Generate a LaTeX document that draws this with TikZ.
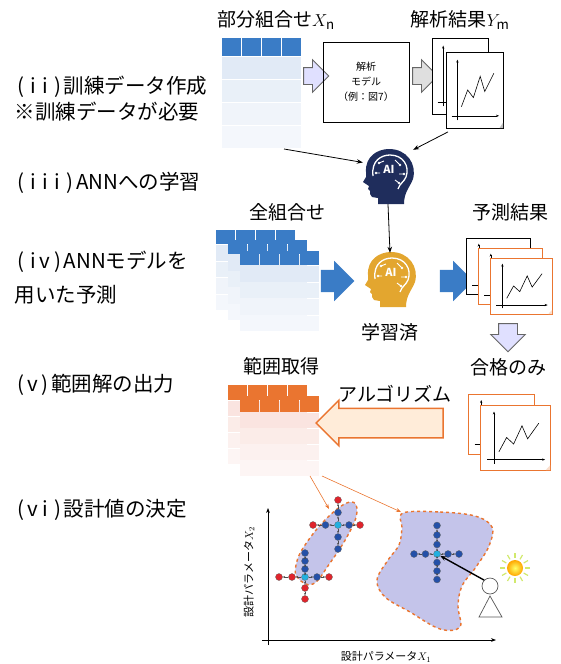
\documentclass[tikz,border=0pt]{standalone}
\usepackage{fontspec}
\setmainfont{Noto Sans CJK JP}
\usetikzlibrary{arrows.meta, shapes.arrows, positioning, calc}

\definecolor{navy}{HTML}{1F2D5C}
\definecolor{gold}{HTML}{E3A62F}
\definecolor{tblue}{HTML}{3A7CC6}
\definecolor{rowblue}{HTML}{C9D9EE}
\definecolor{torange}{HTML}{EA7530}
\definecolor{roworange}{HTML}{F6CFC6}
\definecolor{lav}{HTML}{C4C4EA}
\definecolor{dotblue}{HTML}{2450A8}
\definecolor{dotred}{HTML}{E0242C}
\definecolor{dotcyan}{HTML}{22B0E0}

% half-width cell for the step numbers
\newcommand\hw[1]{\makebox[0.6em]{#1}}

\tikzset{
  steplabel/.style={anchor=west, font=\fontsize{20.5}{24}\selectfont}, % left column
  headlabel/.style={font=\fontsize{19}{22}\selectfont},
  page/.style={fill=white, line width=0.9pt, inner sep=0pt, anchor=north west},
  hollowarrow/.style={single arrow, draw=gray!80!black, line width=0.8pt, inner sep=8pt,
    minimum height=22pt, single arrow head extend=8pt},
  solidarrow/.style={single arrow, fill=tblue, inner sep=11pt,
    minimum height=28pt, single arrow head extend=9pt},
  conn/.style={-{Stealth[length=6pt]}, line width=0.8pt},
  region/.style={fill=lav, draw=torange, dashed, line width=1.4pt},
  dot/.style={circle, inner sep=0pt, minimum size=7pt, draw=black!60, line width=0.3pt},
  probe/.style={-{Stealth[length=2.5pt]}, line width=0.5pt, black!70},
  headbox/.style={minimum width=50pt, minimum height=54pt, inner sep=0pt},
  % AI head silhouette, facing left
  aihead/.pic={
    \fill[pic actions] (-10,27) -- (-10,21) -- (-16,20) -- (-18,17) -- (-18,14) -- (-20,12)
      -- (-19,9) -- (-25,5) -- (-22,0) -- (-22,-5)
      .. controls (-23,-21) and (-10,-28) .. (1,-28)
      .. controls (19,-28) and (29,-13) .. (25,2)
      .. controls (22,10) and (16,15) .. (16,27) -- cycle;
    \draw[white, line width=1.3pt] (-15,-1) .. controls (-17,-17) and (-6,-22) .. (2,-22)
      .. controls (15,-22) and (22,-11) .. (18,0) .. controls (16,5) and (12,6) .. (10,12);
    \draw[white, line width=0.9pt] (-9,-14) -- (-4,-16) (7,-17) -- (12,-12) (11,-3) -- (16,-3)
      (-12,-4) -- (-8,-4) (7,3) -- (11,6);
    \fill[white] (-9,-14) circle (1.4pt) (12,-12) circle (1.4pt) (16,-3) circle (1.4pt)
      (-12,-4) circle (1.4pt) (11,6) circle (1.4pt);
    \node[text=white, font=\bfseries\fontsize{11}{11}\selectfont] at (1,-8) {AI};
  }
}

% data table: name, x, y, header colour, row colour, header height, row height
\newcommand\datatable[7]{%
  \foreach \k in {0,...,3}
    \fill[#4] (#2+\k*20,#3) rectangle ++(19.2,#6);
  \foreach \k/\s in {0/55,1/40,2/28,3/20}
    \fill[#5!\s!white] (#2,#3+#6+1+\k*#7) rectangle ++(79.2,#7-1);
  \coordinate (#1) at (#2+40,#3+40);
  \coordinate (#1 foot) at (#2+62,#3+#6+1+4*#7);
}

% result page with a small graph: name, x, y, width, height, colour
\newcommand\chartpage[6]{%
  \node[page, draw=#6, minimum width=#4pt, minimum height=#5pt] (#1) at (#2,#3) {};
  \begin{scope}[shift={(#1.north west)}, xscale=#4, yscale=#5]
    \draw[-{Stealth[length=3pt]}, line width=0.6pt] (0.2,0.9) -- (0.2,0.1);
    \draw[-{Stealth[length=3pt]}, line width=0.6pt] (0.1,0.84) -- (0.93,0.84);
    \draw[line width=0.6pt] (0.27,0.72) -- (0.38,0.5) -- (0.48,0.6) -- (0.6,0.32)
      -- (0.68,0.52) -- (0.84,0.28);
    \fill[#6!25] (1,0.93) -- (0.94,1) -- (1,1) -- cycle;
  \end{scope}}

% one arm of a search cross: centre, arm, dx, dy, dot colours
\newcommand\probearm[5]{%
  \foreach \c [count=\i, remember=\i as \j (initially 0)] in {#5} {
    \node[dot, fill=\c] (#1#2\i) at ($(#1)+(\i*#3,\i*#4)$) {};
    \ifnum\j=0 \draw[probe] (#1) -- (#1#2\i); \else \draw[probe] (#1#2\j) -- (#1#2\i); \fi
  }}

\begin{document}
\begin{tikzpicture}[x=1pt, y=-1pt]
  \useasboundingbox (0,0) rectangle (561,664);

  % step labels
  \node[steplabel] (s2) at (11,87) {\hw{(}\hw{i}\hw{i}\hw{)}訓練データ作成};
  \node[steplabel] (s2b) at (11,112) {※訓練データが必要};
  \node[steplabel] (s3) at (11,183) {\hw{(}\hw{i}\hw{i}\hw{i}\hw{)}ANNへの学習};
  \node[steplabel] (s4) at (11,262) {\hw{(}\hw{i}\hw{v}\hw{)}ANNモデルを};
  \node[steplabel] (s4b) at (11,295) {用いた予測};
  \node[steplabel] (s5) at (11,385) {\hw{(}\hw{v}\hw{)}範囲解の出力};
  \node[steplabel] (s6) at (11,510) {\hw{(}\hw{v}\hw{i}\hw{)}設計値の決定};

  % (ii) training data
  \node[headlabel] (subT) at (276,20) {部分組合せ$X_{\mathrm{n}}$};
  \node[headlabel] (resT) at (460,20) {解析結果$Y_{\mathrm{m}}$};
  \datatable{sub}{222}{38}{tblue}{rowblue}{18}{23}
  \node[hollowarrow, fill=blue!12] (a1) at (312,76) {};
  \node[draw, line width=0.9pt, minimum width=86pt, minimum height=80pt, align=center,
    font=\fontsize{10}{15}\selectfont] (model) at (366,82) {解析\\モデル\\（例：図7）};
  \node[hollowarrow, fill=gray!25] (a2) at (421,76) {};
  \chartpage{resA}{432}{38}{56}{76}{black}
  \chartpage{resB}{446}{52}{57}{76}{black}

  % (iii) learning
  \node[headbox] (ann) at (388,177) {};
  \pic[fill=navy] at (ann) {aihead};
  \draw[conn] (sub foot) -- (ann.150);
  \draw[conn] ($(resB.south west)+(2,3)$) -- (ann.north east);

  % (iv) prediction
  \node[headlabel] (allT) at (287,212) {全組合せ};
  \node[headlabel] (predT) at (510,212) {予測結果};
  \datatable{allA}{216}{230}{tblue}{rowblue}{14}{16.5}
  \datatable{allB}{228}{240}{tblue}{rowblue}{14}{16.5}
  \datatable{allC}{240}{251}{tblue}{rowblue}{14}{16.5}
  \node[headbox] (annT) at (390,280) {};
  \pic[fill=gold] at (annT) {aihead};
  \draw[conn] (ann.south) -- (annT.north);
  \node[solidarrow] (a3) at (332,281) {};
  \node[solidarrow] (a4) at (451,281) {};
  \node[headlabel] (learnT) at (390,332) {学習済};
  \chartpage{predA}{466}{238}{64}{56}{black}
  \chartpage{predB}{478}{248}{64}{56}{torange}
  \chartpage{predC}{490}{258}{62}{56}{torange}
  \node[hollowarrow, fill=blue!12, shape border rotate=270, minimum height=24pt,
    inner sep=9pt] (a5) at (508,333) {};

  % (v) range output
  \node[headlabel] (rangeT) at (281,366) {範囲取得};
  \node[headlabel] (passT) at (508,367) {合格のみ};
  \node[headlabel] (algoT) at (395,394) {アルゴリズム};
  \datatable{rngA}{228}{385}{torange}{roworange}{15}{16}
  \datatable{rngB}{240}{396}{torange}{roworange}{16}{16}
  \node[single arrow, shape border rotate=180, draw=torange, line width=1.5pt,
    fill=orange!15, inner sep=14pt, minimum height=127pt,
    single arrow head extend=8pt] (a6) at (387,423) {};
  \chartpage{passA}{468}{394}{66}{60}{torange}
  \chartpage{passB}{480}{405}{70}{65}{torange}

  % (vi) design value
  \draw[-{Stealth[length=5pt]}, line width=0.7pt] (268,645) -- (268,508);
  \draw[-{Stealth[length=5pt]}, line width=0.7pt] (262,640) -- (496,640);
  \node[font=\fontsize{11}{12}\selectfont] (x1T) at (386,657) {設計パラメータ$X_1$};
  \node[font=\fontsize{11}{12}\selectfont, rotate=90] (x2T) at (249,572) {設計パラメータ$X_2$};

  \filldraw[region] plot[smooth cycle, tension=0.7] coordinates {
    (350,502) (357,512) (348,535) (330,563) (313,584) (298,578) (296,565) (305,545) (328,517)};
  \filldraw[region] plot[smooth cycle, tension=0.6] coordinates {
    (403,513) (440,512) (475,516) (492,527) (489,546) (476,567) (462,586) (458,606)
    (460,627) (440,629) (410,612) (385,597) (377,580) (388,560) (399,545) (402,528)};

  \coordinate (rng foot) at (310,476);
  \draw[->, >={Stealth[length=5pt]}, torange, line width=0.6pt] (rng foot) -- (329,509);
  \draw[->, >={Stealth[length=5pt]}, torange, line width=0.6pt] ($(rng foot)+(12,0)$) -- (401,512);

  % search crosses
  \node[dot, fill=dotcyan] (cA) at (338,525) {};
  \probearm{cA}{u}{0}{-12.5}{dotblue,dotred}
  \probearm{cA}{d}{0}{12}{dotblue,dotblue}
  \probearm{cA}{l}{-12.5}{0}{dotblue,dotred}
  \probearm{cA}{r}{11}{0}{dotblue,dotred}

  \node[dot, fill=dotcyan] (cB) at (305,577) {};
  \probearm{cB}{u}{0}{-8}{dotblue,dotblue,dotblue}
  \probearm{cB}{d}{0}{11}{dotred,dotred}
  \probearm{cB}{l}{-13}{0}{dotred,dotred}
  \probearm{cB}{r}{12}{0}{dotblue,dotred}

  \node[dot, fill=dotcyan] (cC) at (437,554) {};
  \probearm{cC}{u}{0}{-9.5}{dotblue,dotblue,dotblue}
  \probearm{cC}{d}{0}{8.5}{dotblue,dotblue,dotblue}
  \probearm{cC}{l}{-11.5}{0}{dotblue,dotblue}
  \probearm{cC}{r}{11}{0}{dotblue,dotblue}

  % designer and idea
  \node[circle, draw=gray!70!black, fill=white, line width=0.7pt, minimum size=16pt,
    inner sep=0pt] (who) at (490,586) {};
  \draw[gray!70!black, fill=white, line width=0.7pt] (490,596) -- (479,617) -- (502,617) -- cycle;
  \foreach \a in {0,30,...,330}
    \draw[yellow!70!green!60, line width=1.2pt] (515,568) ++(\a:10) -- ++(\a:5);
  \shade[inner color=yellow!60, outer color=orange!70!yellow] (515,568) circle (8pt);
  \node[inner sep=0pt] (idea) at (515,568) {};
  \draw[-{Stealth[length=6pt]}, line width=1.4pt] (who.north west) -- (cC);
\end{tikzpicture}
\end{document}
